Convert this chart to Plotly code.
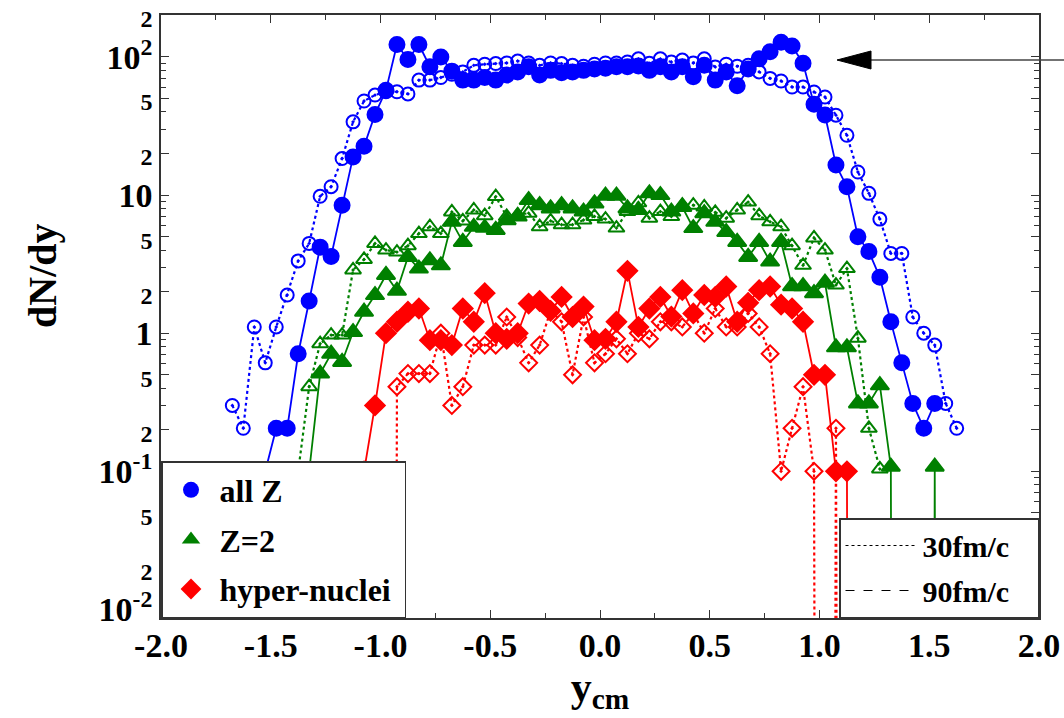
import plotly.graph_objects as go

# ---------------- data ----------------
y_cm = [-1.675, -1.625, -1.575, -1.525, -1.475, -1.425, -1.375, -1.325, -1.275, -1.225,
        -1.175, -1.125, -1.075, -1.025, -0.975, -0.925, -0.875, -0.825, -0.775, -0.725,
        -0.675, -0.625, -0.575, -0.525, -0.475, -0.425, -0.375, -0.325, -0.275, -0.225,
        -0.175, -0.125, -0.075, -0.025, 0.025, 0.075, 0.125, 0.175, 0.225, 0.275,
        0.325, 0.375, 0.425, 0.475, 0.525, 0.575, 0.625, 0.675, 0.725, 0.775,
        0.825, 0.875, 0.925, 0.975, 1.025, 1.075, 1.125, 1.175, 1.225, 1.275,
        1.325, 1.375, 1.425, 1.475, 1.525, 1.575, 1.625]

allz_90 = [None, None, None, 0.1, 0.205, 0.205, 0.71, 1.71, 4.2, 3.6,
           8.45, 18.9, 22.6, 38.4, 57.4, 123, 96, 123, 85, 100,
           79, 68, 68, 71, 68, 74, 78, 85, 74, 80,
           77, 78, 80, 82, 83, 85, 85, 86, 80, 85,
           78, 85, 72, 87, 68, 78, 62, 82, 97, 109,
           128, 120, 90, 45.5, 38, 16.5, 11.5, 5.0, 3.9, 2.54,
           1.21, 0.61, 0.31, 0.205, 0.31, None, None]

allz_30 = [0.30, 0.205, 1.11, 0.61, 1.11, 1.89, 3.34, 4.47, 9.8, 11.5,
           18.4, 33.9, 48, 53, 56, 56, 54, 68, 68, 71,
           75, 78, 87, 88.6, 89.6, 90.5, 93.5, 90.5, 87, 90.5,
           89.6, 87, 85.7, 88.6, 90.5, 90.5, 92, 97, 90, 97,
           92, 95, 90.5, 97, 84.7, 88.6, 85.7, 87, 78, 70,
           67, 60.6, 60.6, 55.8, 51.3, 37.9, 27.1, 14.7, 10.3, 6.7,
           3.78, 3.78, 1.31, 1.0, 0.82, 0.31, 0.205]

z2_90 = [None, None, None, None, None, None, None, 0.1, 0.51, 0.71,
         0.62, 1.02, 1.43, 1.89, 2.64, 2.03, 3.57, 2.94, 3.37, 3.1,
         6.4, 4.58, 5.89, 5.8, 5.6, 6.58, 7.0, 9.2, 8.45, 8.0,
         8.45, 8.0, 7.6, 8.7, 9.9, 9.9, 8.0, 7.8, 10.3, 10.0,
         7.6, 8.2, 5.77, 7.4, 6.4, 5.4, 4.58, 3.57, 4.58, 3.3,
         4.58, 2.19, 2.19, 1.95, 2.32, 0.79, 0.79, 0.31, 0.31, 0.42,
         0.108, 0, 0, 0, 0.108, 0, None]

z2_30 = [None, None, None, None, None, None, 0.1, 0.41, 0.84, 0.97,
         0.97, 2.87, 3.42, 4.47, 4.0, 3.87, 4.3, 5.27, 5.9, 5.27,
         7.55, 6.5, 7.8, 7.1, 9.75, 7.0, 7.2, 7.4, 5.9, 6.5,
         6.1, 6.1, 6.6, 7.0, 6.7, 5.77, 7.6, 8.8, 6.8, 7.6,
         7.0, 8.45, 8.45, 8.2, 7.5, 6.8, 7.8, 8.9, 7.1, 6.4,
         5.9, 4.3, 3.1, 4.9, 4.0, 2.23, 2.94, 0.92, 0.205, 0.104,
         None, None, None, None, None, None, None]

hyp_90 = [None, None, None, None, None, None, None, None, None, None,
          None, None, 0.1, 0.30, 1.0, 1.21, 1.43, 1.51, 0.89, 0.89,
          0.82, 1.51, 1.21, 1.95, 1.0, 0.91, 1.0, 1.64, 1.71, 1.45,
          1.83, 1.31, 1.56, 0.89, 0.91, 1.21, 2.83, 1.11, 1.51, 1.83,
          1.32, 2.05, 1.39, 1.89, 1.83, 2.18, 1.21, 1.66, 2.05, 2.18,
          1.61, 1.51, 1.21, 0.50, 0.50, 0.1, 0.1, 0, None, None,
          None, None, None, None, None, None, None]

hyp_30 = [None, None, None, None, None, None, None, None, None, None,
          None, None, None, None, 0, 0.41, 0.51, 0.51, 0.51, 1.0,
          0.30, 0.41, 0.82, 0.82, 0.82, 1.31, 0.93, 0.61, 0.82, 1.46,
          1.21, 0.50, 1.31, 0.61, 0.71, 0.91, 0.71, 1.0, 0.91, 1.21,
          1.21, 1.11, 1.39, 1.0, 1.51, 1.11, 1.11, 1.39, 1.11, 0.71,
          0.1, 0.205, 0.41, 0.1, 0, 0.205, 0, None, None, None,
          None, None, None, None, None, None, None]

x_tick_vals = [-2.0, -1.5, -1.0, -0.5, 0.0, 0.5, 1.0, 1.5, 2.0]
x_tick_text = ["-2.0", "-1.5", "-1.0", "-0.5", "0.0", "0.5", "1.0", "1.5", "2.0"]
x_minor_vals = [-1.75, -1.25, -0.75, -0.25, 0.25, 0.75, 1.25, 1.75]

y_tick_vals = [0.01, 0.02, 0.05, 0.1, 0.2, 0.5, 1, 2, 5, 10, 20, 50, 100, 200]
y_tick_labels = ["10<sup>-2</sup>", "2", "5", "10<sup>-1</sup>", "2", "5", "1", "2", "5",
                 "10", "2", "5", "10<sup>2</sup>", "2"]
y_tick_is_major = [True, False, False, True, False, False, True, False, False,
                   True, False, False, True, False]
y_minor_vals = [m * 10 ** e for e in range(-2, 3) for m in (3, 4, 6, 7, 8, 9)]

series_names = ["all Z", "Z=2", "hyper-nuclei"]
time_names = ["30fm/c", "90fm/c"]
x_title = "y<sub>cm</sub>"
y_title = "dN/dy"

# ---------------- style ----------------
BLUE = "#0000ff"
GREEN = "#008000"
RED = "#ff0000"
FONT = "Liberation Serif"
ZERO_FLOOR = 1e-30  # zero counts: drawn off the bottom of the log axis


def logsafe(vals):
    return [None if v is None else (v if v > 0 else ZERO_FLOOR) for v in vals]


fig = go.Figure()

specs = [
    (allz_30, BLUE, "circle-open-dot", "dot", 13),
    (z2_30, GREEN, "triangle-up-open-dot", "dot", 14),
    (hyp_30, RED, "diamond-open-dot", "dot", 13),
    (allz_90, BLUE, "circle", "solid", 15),
    (z2_90, GREEN, "triangle-up", "solid", 16),
    (hyp_90, RED, "diamond", "solid", 15),
]
for vals, col, sym, dash, size in specs:
    fig.add_trace(go.Scatter(
        x=y_cm, y=logsafe(vals), mode="lines+markers",
        line=dict(color=col, width=2.2 if dash == "dot" else 1.8, dash=dash),
        marker=dict(symbol=sym, size=size, color=col,
                    line=dict(color=col, width=2)),
        showlegend=False, connectgaps=False, hoverinfo="x+y",
    ))

NB = "&nbsp;"
# legend 1 (species)
for name, col, sym in zip(series_names, [BLUE, GREEN, RED], ["circle", "triangle-up", "diamond"]):
    fig.add_trace(go.Scatter(x=[None], y=[None], mode="markers", name=name + NB,
                             marker=dict(symbol=sym, size=16, color=col),
                             legend="legend", legendgroup=name))
# legend 2 (times)
for name, dash in zip(time_names, ["dot", "dash"]):
    fig.add_trace(go.Scatter(x=[None], y=[None], mode="lines", name=name + NB * 3,
                             line=dict(color="black", width=1.2, dash=dash),
                             legend="legend2", legendgroup=name))

y_tick_text = [t if major else "<span style='font-size:24px'>%s</span>" % t
               for t, major in zip(y_tick_labels, y_tick_is_major)]

PL, PR, PT, PB = 161, 1039, 15, 618
W, H = 1064, 718


def px_x(p):
    return (p - PL) / (PR - PL)


def px_y(p):
    return (PB - p) / (PB - PT)


fig.update_layout(
    width=W, height=H,
    margin=dict(l=PL, r=W - PR, t=PT, b=H - PB, autoexpand=False),
    paper_bgcolor="white", plot_bgcolor="white",
    font=dict(family=FONT, color="black"),
    xaxis=dict(
        range=[-2, 2], tickmode="array", tickvals=x_tick_vals, ticktext=x_tick_text,
        ticks="inside", ticklen=8, tickwidth=1.2, tickcolor="#333",
        minor=dict(tickvals=x_minor_vals, ticks="inside", ticklen=5, tickcolor="#333"),
        showline=True, linecolor="#333", linewidth=1.5, mirror="allticks",
        showgrid=False, zeroline=False, automargin=False, ticklabelstandoff=-4,
        tickfont=dict(family=FONT, size=34, weight="bold", color="black"),
        title=dict(text=x_title, font=dict(family=FONT, size=42, weight="bold", color="black"),
                   standoff=0),
    ),
    yaxis=dict(
        type="log", range=[-2.062, 2.304], tickmode="array",
        tickvals=y_tick_vals, ticktext=y_tick_text,
        ticks="inside", ticklen=8, tickwidth=1.2, tickcolor="#333",
        minor=dict(tickvals=y_minor_vals, ticks="inside", ticklen=5, tickcolor="#333"),
        showline=True, linecolor="#333", linewidth=1.5, mirror="allticks",
        showgrid=False, zeroline=False, automargin=False,
        tickfont=dict(family=FONT, size=34, weight="bold", color="black"),
    ),
    annotations=[
        dict(text=y_title, xref="paper", yref="paper", x=px_x(42), y=px_y(276),
             xanchor="center", yanchor="middle", textangle=-90, showarrow=False,
             font=dict(family=FONT, size=40, weight="bold", color="black")),
    ],
    legend=dict(
        x=0, y=0, xanchor="left", yanchor="bottom",
        bgcolor="white", bordercolor="#333", borderwidth=1.5,
        font=dict(family=FONT, size=32, weight="bold", color="black"),
        tracegroupgap=5, itemsizing="trace", itemwidth=47,
    ),
    legend2=dict(
        x=1, y=0, xanchor="right", yanchor="bottom",
        bgcolor="white", bordercolor="#333", borderwidth=1.5,
        font=dict(family=FONT, size=30, weight="bold", color="black"),
        tracegroupgap=3, itemwidth=72,
    ),
    shapes=[
        dict(type="line", xref="paper", yref="paper",
             x0=px_x(866), x1=px_x(1070), y0=px_y(60), y1=px_y(60),
             line=dict(color="#444", width=1.3)),
        dict(type="path", xref="paper", yref="paper",
             path="M {a},{b} L {c},{d} L {c},{e} Z".format(
                 a=px_x(837), b=px_y(60), c=px_x(871), d=px_y(51), e=px_y(69)),
             fillcolor="black", line=dict(color="black", width=1)),
    ],
)

fig.write_html("out.html", config={"displayModeBar": False},
               post_script="document.body.style.margin='0px';")
